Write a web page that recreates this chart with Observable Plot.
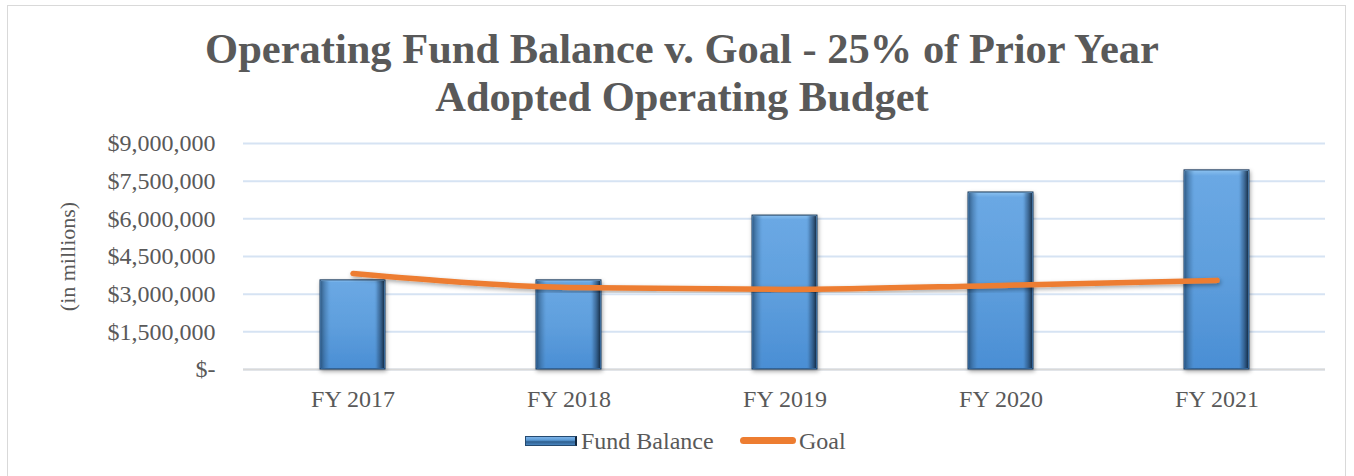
<!DOCTYPE html>
<html>
<head>
<meta charset="utf-8">
<script src="https://cdn.jsdelivr.net/npm/d3@7"></script>
<script src="https://cdn.jsdelivr.net/npm/@observablehq/plot@0.6"></script>
<style>
  html, body { margin: 0; padding: 0; background: #fff; }
  #wrap { position: relative; width: 1354px; height: 476px; overflow: hidden; font-family: "Liberation Serif", "Times New Roman", serif; }
  #frame { position: absolute; left: 7px; top: 5px; width: 1339px; height: 480px; border: 1px solid #d9d9d9; box-sizing: border-box; }
  #title { position: absolute; left: 0; top: 25px; width: 1364px; text-align: center; font-weight: bold; font-size: 42.5px; line-height: 48px; color: #595959; font-family: "Liberation Serif", serif; }
  #chart { position: absolute; left: 0; top: 125px; }
  #legend { position: absolute; top: 427px; left: 0; width: 1354px; height: 28px; font-size: 24px; color: #595959; font-family: "Liberation Serif", serif; }
  .sw-bar { position: absolute; left: 525px; top: 9px; width: 52px; height: 10px; background: linear-gradient(to bottom, #7db3e8 0%, #5b9bd5 40%, #2f5f8f 60%, #4a86c0 100%); border: 1px solid #254a70; border-right: 2px solid #11263d; box-sizing: border-box; }
  .sw-line { position: absolute; left: 740px; top: 10px; width: 56px; height: 7px; border-radius: 4px; background: #ED7D31; }
  .lab { position: absolute; top: 0; line-height: 28px; font-family: "Liberation Serif", serif; }
</style>
</head>
<body>
<div id="wrap">
  <div id="frame"></div>
  <div id="title">Operating Fund Balance v. Goal - 25% of Prior Year<br>Adopted Operating Budget</div>
  <div id="chart"></div>
  <div id="legend">
    <div class="sw-bar"></div><div class="lab" style="left:581px">Fund Balance</div>
    <div class="sw-line"></div><div class="lab" style="left:799px">Goal</div>
  </div>
</div>
<script>
const years = ["FY 2017", "FY 2018", "FY 2019", "FY 2020", "FY 2021"];
const fundBalance = [3550000, 3550000, 6130000, 7050000, 7930000];
const goal = [3820000, 3270000, 3190000, 3350000, 3550000];
const yTicks = [0, 1500000, 3000000, 4500000, 6000000, 7500000, 9000000];

const data = years.map((y, i) => ({year: y, balance: fundBalance[i], goal: goal[i]}));
const fmt = v => v === 0 ? "$-" : "$" + d3.format(",")(v);

const plot = Plot.plot({
  width: 1354,
  height: 300,
  marginLeft: 243,
  marginRight: 29,
  marginTop: 18,
  marginBottom: 56,
  style: {fontFamily: "'Liberation Serif', 'Times New Roman', serif", fontSize: "24px", color: "#595959", background: "transparent"},
  x: {domain: years, paddingInner: 0.7, paddingOuter: 0.35, label: null},
  y: {domain: [0, 9000000], label: null},
  marks: [
    Plot.gridY(yTicks, {stroke: "#d6e3f3", strokeOpacity: 1, strokeWidth: 2}),
    Plot.axisY(yTicks, {tickFormat: fmt, tickSize: 0, tickPadding: 28, fontSize: 24, fill: "#595959", label: null}),
    Plot.text(["(in millions)"], {frameAnchor: "left", dx: -176, rotate: -90, fontSize: 22, fill: "#595959", textAnchor: "middle"}),
    Plot.axisX({tickSize: 0, tickPadding: 20, fontSize: 24, fill: "#595959", label: null}),
    Plot.ruleY([0], {stroke: "#d9d9d9", strokeWidth: 2}),
    Plot.barY(data, {x: "year", y: "balance", fill: "url(#barFill)", stroke: "#1d3a5a", strokeWidth: 1}),
    Plot.barY(data, {x: "year", y: "balance", fill: "url(#barEdge)", inset: 1}),
    Plot.line(data, {x: "year", y: "goal", stroke: "#ED7D31", strokeWidth: 5.5, curve: "monotone-x", strokeLinecap: "round", strokeLinejoin: "round"})
  ]
});

const svg = d3.select(plot);
const defs = svg.insert("defs", ":first-child");
const g1 = defs.append("linearGradient").attr("id", "barFill").attr("x1", 0).attr("y1", 0).attr("x2", 0).attr("y2", 1);
[[0, "#8cc2f0"], [0.03, "#6aa8e4"], [0.5, "#5f9fdd"], [1, "#4a8ed4"]].forEach(([o, c]) => g1.append("stop").attr("offset", o).attr("stop-color", c));
const g2 = defs.append("linearGradient").attr("id", "barEdge").attr("x1", 0).attr("y1", 0).attr("x2", 1).attr("y2", 0);
[[0, "#1f4468", 0.7], [0.1, "#3d6f9f", 0.3], [0.16, "#5b9bd5", 0], [0.84, "#5b9bd5", 0], [0.9, "#2d5580", 0.4], [1, "#0d1f33", 0.85]].forEach(([o, c, a]) => g2.append("stop").attr("offset", o).attr("stop-color", c).attr("stop-opacity", a));
const f = defs.append("filter").attr("id", "shadow").attr("x", "-20%").attr("y", "-20%").attr("width", "140%").attr("height", "140%");
f.append("feDropShadow").attr("dx", 1).attr("dy", 2).attr("stdDeviation", 2).attr("flood-color", "#000").attr("flood-opacity", 0.35);
svg.selectAll("g[aria-label='bar']").filter((d, i) => i === 0).attr("filter", "url(#shadow)");
svg.selectAll("g[aria-label='line']").attr("filter", "url(#shadow)");

document.getElementById("chart").appendChild(plot);
</script>
</body>
</html>
